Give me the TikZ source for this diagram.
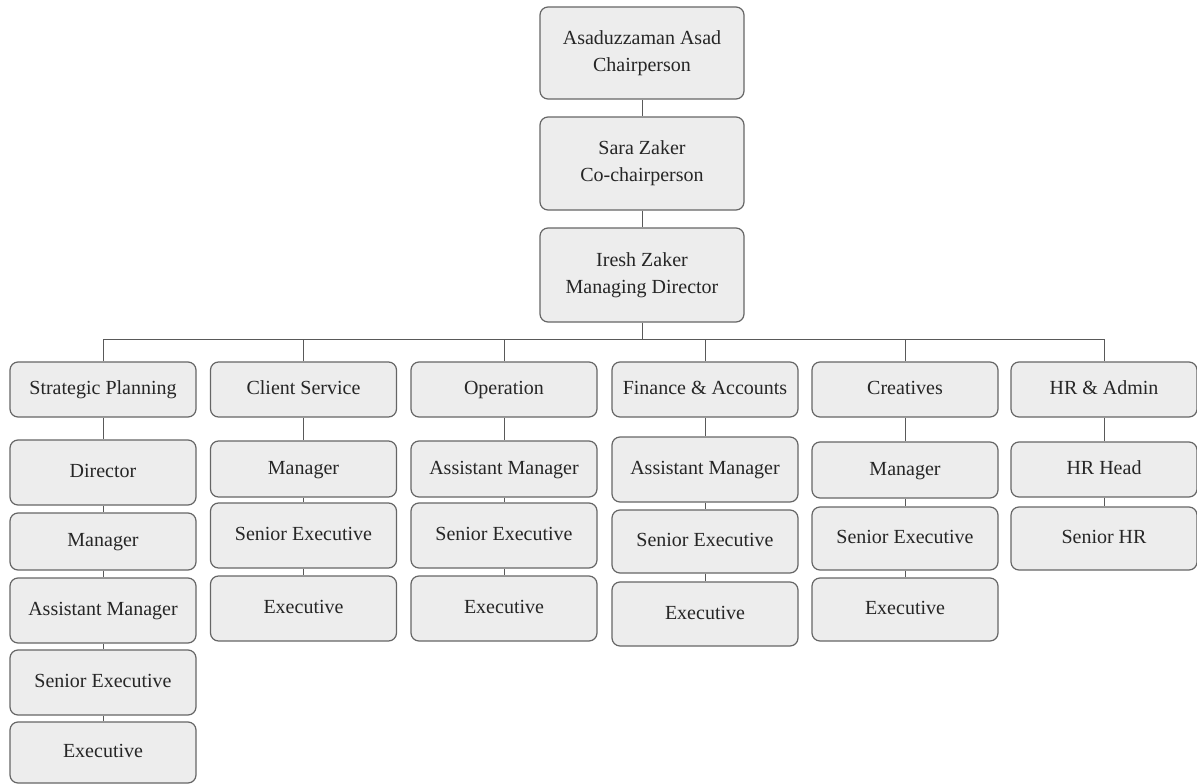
\documentclass[tikz,border=0pt]{standalone}
\usepackage{fontspec}
\setmainfont{Liberation Serif}
\begin{document}
\begin{tikzpicture}[x=1pt,y=-1pt,
  box/.style={draw=black!60, line width=1.2pt, fill=black!7, rounded corners=8pt,
    align=center, font=\fontsize{20}{27}\selectfont, inner sep=0pt, text=black!85},
  link/.style={draw=black!65, line width=1pt}]
\useasboundingbox (0,0) rectangle (1197,784);
% top chain
\node[box, minimum width=204, minimum height=92] (chair) at (642,53) {Asaduzzaman Asad\\Chairperson};
\node[box, minimum width=204, minimum height=93] (cochair) at (642,163.5) {Sara Zaker\\Co-chairperson};
\node[box, minimum width=204, minimum height=94] (md) at (642,275) {Iresh Zaker\\Managing Director};
% departments
\tikzset{dept/.style={box, minimum width=186, minimum height=55, text height=14pt, text depth=4pt}}
\node[dept] (sp) at (103,389.5) {Strategic Planning};
\node[dept] (cs) at (303.5,389.5) {Client Service};
\node[dept] (op) at (504,389.5) {Operation};
\node[dept] (fa) at (705,389.5) {Finance \& Accounts};
\node[dept] (cr) at (905,389.5) {Creatives};
\node[dept] (hr) at (1104,389.5) {HR \& Admin};
\coordinate (bar) at (642,339);
% Strategic Planning column
\tikzset{role/.style={box, minimum width=186, text height=14pt, text depth=4pt}}
\node[role, minimum height=65] (sp1) at (103,472.5) {Director};
\node[role, minimum height=57] (sp2) at (103,541.5) {Manager};
\node[role, minimum height=65] (sp3) at (103,610.5) {Assistant Manager};
\node[role, minimum height=65] (sp4) at (103,682.5) {Senior Executive};
\node[role, minimum height=61] (sp5) at (103,752.5) {Executive};
% Client Service column
\node[role, minimum height=56] (cs1) at (303.5,469) {Manager};
\node[role, minimum height=65] (cs2) at (303.5,535.5) {Senior Executive};
\node[role, minimum height=65] (cs3) at (303.5,608.5) {Executive};
% Operation column
\node[role, minimum height=56] (op1) at (504,469) {Assistant Manager};
\node[role, minimum height=65] (op2) at (504,535.5) {Senior Executive};
\node[role, minimum height=65] (op3) at (504,608.5) {Executive};
% Finance column
\node[role, minimum height=65] (fa1) at (705,469.5) {Assistant Manager};
\node[role, minimum height=63] (fa2) at (705,541.5) {Senior Executive};
\node[role, minimum height=64] (fa3) at (705,614) {Executive};
% Creatives column
\node[role, minimum height=56] (cr1) at (905,470) {Manager};
\node[role, minimum height=63] (cr2) at (905,538.5) {Senior Executive};
\node[role, minimum height=63] (cr3) at (905,609.5) {Executive};
% HR column
\node[role, minimum height=55] (hr1) at (1104,469.5) {HR Head};
\node[role, minimum height=63] (hr2) at (1104,538.5) {Senior HR};
% connectors
\draw[link] (chair) -- (cochair);
\draw[link] (cochair) -- (md);
\draw[link] (md.south) -- (bar);
\draw[link] (bar -| sp.north) -- (bar -| hr.north);
\foreach \d in {sp,cs,op,fa,cr,hr}{\draw[link] (bar -| \d.north) -- (\d.north);}
\draw[link] (sp) -- (sp1); \draw[link] (sp1) -- (sp2); \draw[link] (sp2) -- (sp3);
\draw[link] (sp3) -- (sp4); \draw[link] (sp4) -- (sp5);
\draw[link] (cs) -- (cs1); \draw[link] (cs1) -- (cs2); \draw[link] (cs2) -- (cs3);
\draw[link] (op) -- (op1); \draw[link] (op1) -- (op2); \draw[link] (op2) -- (op3);
\draw[link] (fa) -- (fa1); \draw[link] (fa1) -- (fa2); \draw[link] (fa2) -- (fa3);
\draw[link] (cr) -- (cr1); \draw[link] (cr1) -- (cr2); \draw[link] (cr2) -- (cr3);
\draw[link] (hr) -- (hr1); \draw[link] (hr1) -- (hr2);
\end{tikzpicture}
\end{document}
